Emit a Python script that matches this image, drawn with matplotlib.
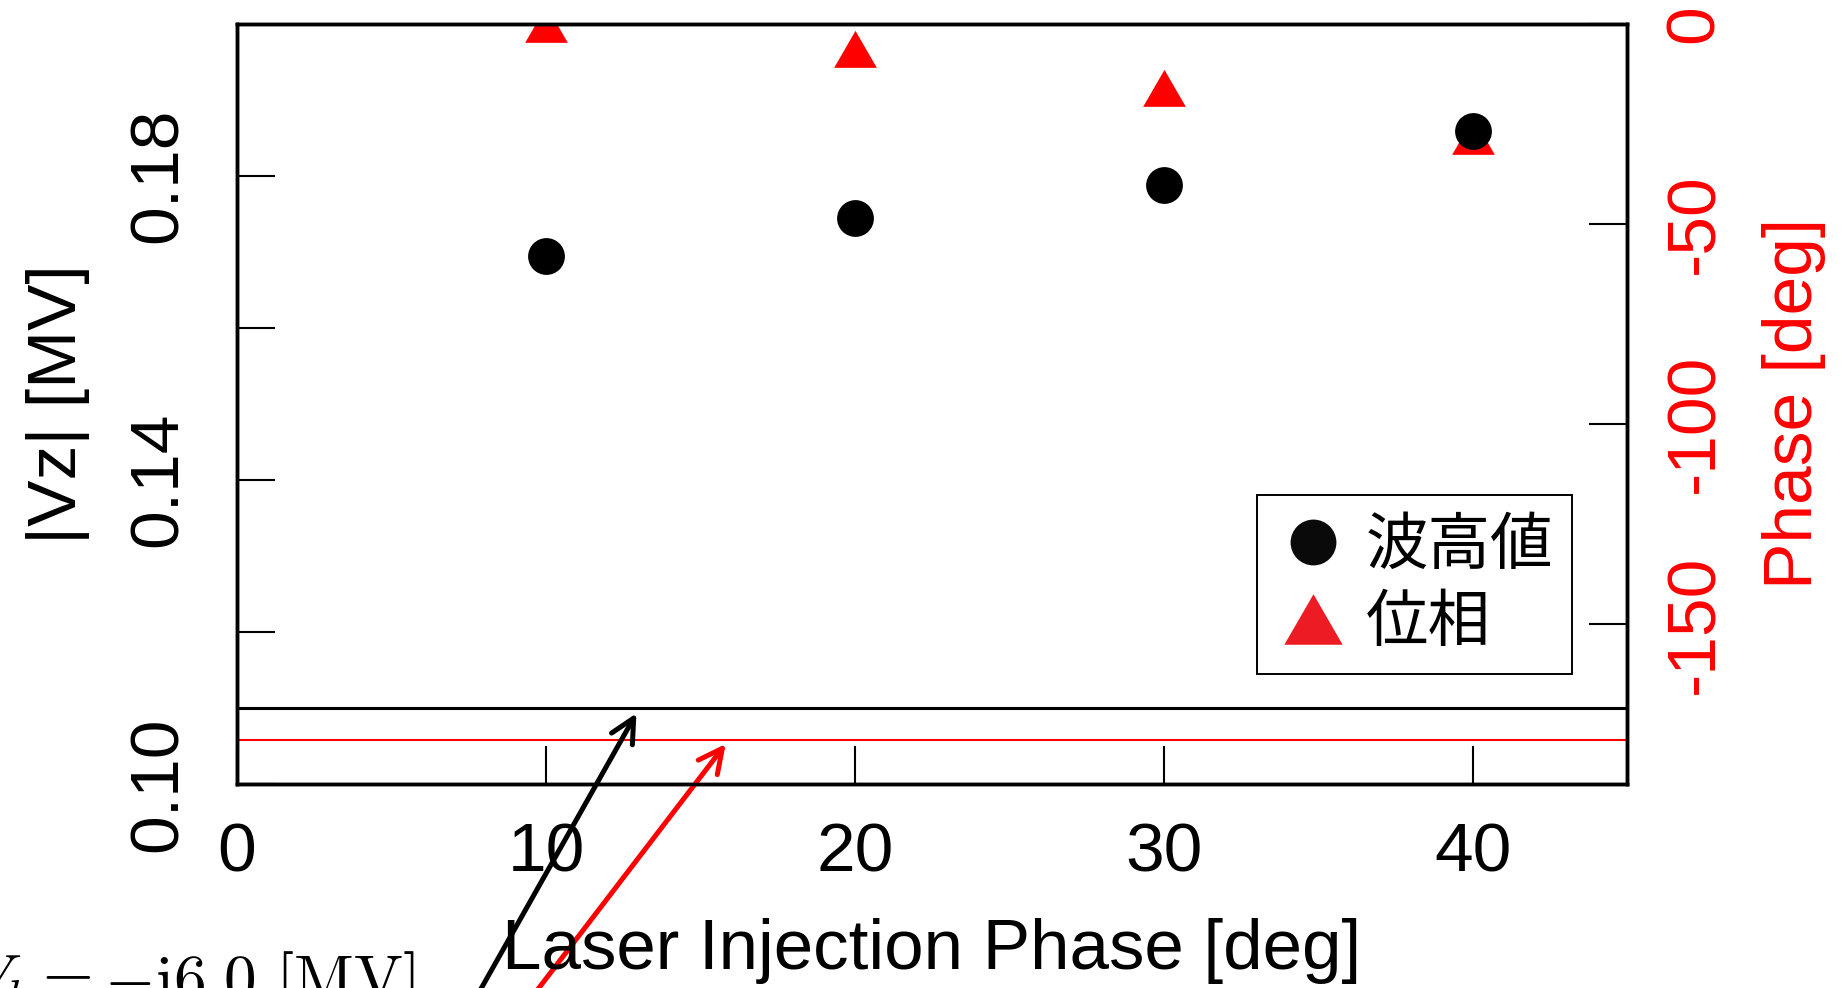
import matplotlib
matplotlib.use("Agg")
import matplotlib.pyplot as plt
from matplotlib.path import Path
from matplotlib.lines import Line2D

plt.rcParams['font.family'] = ['Liberation Sans', 'DejaVu Sans']
plt.rcParams['mathtext.fontset'] = 'cm'
plt.rcParams['axes.unicode_minus'] = False

# laser injection phase [deg]
inj_phase = [10, 20, 30, 40]
# amplitude |Vz| [MV] and phase [deg] of Vz
vz_amp = [0.1694, 0.1744, 0.1788, 0.1859]
vz_phase = [-1.5, -7.9, -17.7, -29.5]
# level without laser
vz_amp_ref = 0.11
vz_phase_ref = -179.0

x_ticks = [0, 10, 20, 30, 40]
amp_ticks = [0.10, 0.12, 0.14, 0.16, 0.18]
amp_labels = ['0.10', '', '0.14', '', '0.18']
phase_ticks = [0, -50, -100, -150]
phase_labels = ['0', '-50', '-100', '-150']
legend_labels = ['波高値', '位相']

# arrow tips (x, |Vz|) and (x, phase)
amp_arrow_tip = (12.93, 0.1093)
phase_arrow_tip = (15.82, -180.0)

RED = '#ff0000'

# triangle centred on its centroid, like R's pch 17
tri = Path([(0, 1), (-0.866, -0.5), (0.866, -0.5), (0, 1)],
           [Path.MOVETO, Path.LINETO, Path.LINETO, Path.CLOSEPOLY])
# equilateral triangle centred on its box, for the legend key
tri_key = Path([(0, 0.866), (-1, -0.866), (1, -0.866), (0, 0.866)],
               [Path.MOVETO, Path.LINETO, Path.LINETO, Path.CLOSEPOLY])

fig = plt.figure(figsize=(18.42, 9.88), dpi=100)
ax = fig.add_axes([0.1287, 0.2065, 0.7546, 0.7697])
ax2 = ax.twinx()
ax.set_zorder(ax2.get_zorder() + 1)
ax.patch.set_visible(False)

ax.set_xlim(0, 45)
ax.set_ylim(0.10, 0.20)
ax2.set_ylim(-190, 0)

ax2.plot(inj_phase, vz_phase, ls='none', marker=tri, ms=35.5, color=RED, mew=0)
ax2.axhline(vz_phase_ref, color=RED, lw=1.5)
ax.plot(inj_phase, vz_amp, ls='none', marker='o', ms=26.5, color='k', mew=0)
ax.axhline(vz_amp_ref, color='k', lw=2.2)

for a in (ax, ax2):
    for s in a.spines.values():
        s.set_linewidth(2.5)

ax.set_xticks(x_ticks)
ax.set_yticks(amp_ticks, amp_labels)
ax.tick_params(axis='both', direction='in', length=27.5, width=1.5, labelsize=50)
ax.tick_params(axis='x', pad=27)
ax.tick_params(axis='y', pad=33, labelrotation=90)
for lab in ax.get_yticklabels():
    lab.set_va('center')

ax2.set_yticks(phase_ticks, phase_labels)
ax2.tick_params(axis='y', direction='in', length=27.5, width=1.5, labelsize=50,
                labelcolor=RED, pad=26, labelrotation=90)
for lab in ax2.get_yticklabels():
    lab.set_va('center')

ax.set_xlabel('Laser Injection Phase [deg]', fontsize=51)
ax.xaxis.set_label_coords(0.5, -0.1762)
ax.set_ylabel('|Vz| [MV]', fontsize=50)
ax.yaxis.set_label_coords(-0.1058, 0.5)
ax2.set_ylabel('Phase [deg]', fontsize=50, color=RED)
ax2.yaxis.set_label_coords(1.0971, 0.5)

handles = [
    Line2D([], [], ls='none', marker='o', ms=33, color='#0a0a0a', mew=0),
    Line2D([], [], ls='none', marker=tri_key, ms=42, color='#ed1c24', mew=0),
]
leg = ax.legend(handles, legend_labels, loc='upper left',
                bbox_to_anchor=(1257 / 1842, 1 - 495.5 / 988),
                bbox_transform=fig.transFigure, borderaxespad=0,
                prop={'family': 'Noto Sans CJK JP', 'size': 45},
                borderpad=0.30, handlelength=1.2, handletextpad=0.244,
                labelspacing=0.2, fancybox=False, framealpha=1,
                edgecolor='k', numpoints=1)
leg.get_frame().set_linewidth(1.4)

# arrows from the notes below the plot
ax.annotate('', xy=amp_arrow_tip, xycoords='data',
            xytext=(0.2485, -0.0425), textcoords='figure fraction',
            arrowprops=dict(arrowstyle='->', color='k', lw=3.6,
                            mutation_scale=43, shrinkA=0, shrinkB=0),
            annotation_clip=False)
ax2.annotate('', xy=phase_arrow_tip, xycoords='data',
             xytext=(0.2751, -0.0425), textcoords='figure fraction',
             arrowprops=dict(arrowstyle='->', color=RED, lw=3.6,
                             mutation_scale=43, shrinkA=0, shrinkB=0),
             annotation_clip=False)

fig.text(415 / 1842, -12 / 988, r'$V_b = -\mathrm{i}6.0\ [\mathrm{MV}]$',
         fontsize=47, ha='right', va='baseline')

fig.savefig('out.png', dpi=100)
